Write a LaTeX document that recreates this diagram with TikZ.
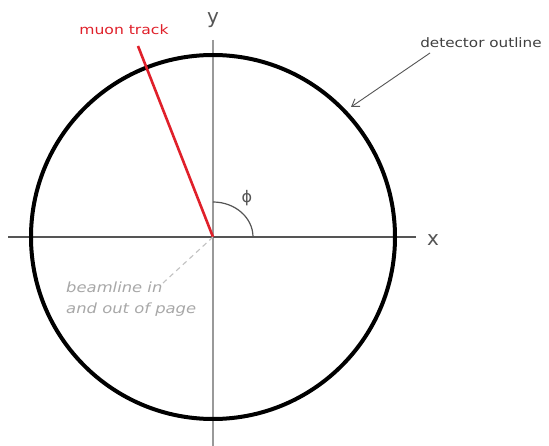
\documentclass[tikz,border=0pt]{standalone}
\usepackage{fontspec}
\setmainfont{DejaVu Sans}
\usetikzlibrary{arrows.meta}
\definecolor{xaxc}{HTML}{555555}
\definecolor{yaxc}{HTML}{999999}
\definecolor{muonred}{HTML}{E0202A}
\definecolor{beamgray}{HTML}{A8A8A8}
\begin{document}
\begin{tikzpicture}[x=1pt,y=-1pt,
  axis/.style={line width=1.3pt},
  lbl/.style={inner sep=0pt, font=\fontsize{13}{15}\selectfont},
  blbl/.style={inner sep=0pt, text=beamgray, anchor=west, xscale=1.17, font=\fontsize{14}{16}\selectfont\itshape},
  axlbl/.style={inner sep=0pt, text=xaxc, font=\fontsize{20}{22}\selectfont}]
\useasboundingbox[fill=white] (0,0) rectangle (549,446);
\coordinate (O) at (213,237);
\coordinate (xl) at (8,237);
\coordinate (xr) at (416,237);
\coordinate (yt) at (213,40);
\coordinate (yb) at (213,446);
\coordinate (mt) at (138,46);
\coordinate (arcs) at (253,237);
\coordinate (bl) at (163,283);
\coordinate (as) at (430,53);
\coordinate (ae) at (351,107);
% axes
\draw[axis, yaxc] (yt) -- (yb);
\draw[axis, xaxc] (xl) -- (xr);
% detector
\draw[line width=4pt, black] (O) circle[radius=182pt];
% muon track
\draw[line width=2.6pt, muonred] (O) -- (mt);
% phi arc
\draw[line width=1.2pt, xaxc] (arcs) arc[start angle=0, end angle=90, x radius=40pt, y radius=35pt];
% beamline
\draw[line width=1.1pt, beamgray!70, dash pattern=on 5pt off 4pt] (O) -- (bl);
% arrow
\draw[line width=0.9pt, xaxc, -{Straight Barb[length=7pt,width=9pt]}] (as) -- (ae);
% labels
\node[axlbl] (ylab) at (213,20) {y};
\node[axlbl] (xlab) at (433,240) {x};
\node[lbl, text=muonred, xscale=1.2] (mu) at (124,30) {muon track};
\node[lbl, text=black!75, xscale=1.17] (det) at (481,43) {detector outline};
\node[axlbl, font=\fontsize{16}{18}\selectfont] (phi) at (247,198) {ϕ};
\node[blbl] (b1) at (66,287) {beamline in};
\node[blbl] (b2) at (66,310) {and out of page};
\end{tikzpicture}
\end{document}
